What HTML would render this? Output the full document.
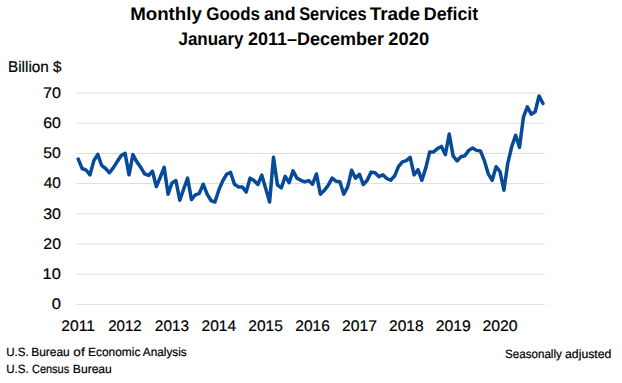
<!DOCTYPE html>
<html><head><meta charset="utf-8"><style>
html,body{margin:0;padding:0;background:#fff;width:622px;height:383px;overflow:hidden}
svg{display:block}
text{font-family:"Liberation Sans",sans-serif;fill:#000}
</style></head><body>
<svg width="622" height="383" viewBox="0 0 622 383">
<line x1="76.3" y1="304.4" x2="544.9" y2="304.4" stroke="#dcdcdc" stroke-width="1.0"/>
<line x1="76.3" y1="274.2" x2="544.9" y2="274.2" stroke="#dcdcdc" stroke-width="1.0"/>
<line x1="76.3" y1="244.0" x2="544.9" y2="244.0" stroke="#dcdcdc" stroke-width="1.0"/>
<line x1="76.3" y1="213.8" x2="544.9" y2="213.8" stroke="#dcdcdc" stroke-width="1.0"/>
<line x1="76.3" y1="183.6" x2="544.9" y2="183.6" stroke="#dcdcdc" stroke-width="1.0"/>
<line x1="76.3" y1="153.4" x2="544.9" y2="153.4" stroke="#dcdcdc" stroke-width="1.0"/>
<line x1="76.3" y1="123.2" x2="544.9" y2="123.2" stroke="#dcdcdc" stroke-width="1.0"/>
<line x1="76.3" y1="93.0" x2="544.9" y2="93.0" stroke="#dcdcdc" stroke-width="1.0"/>

<polyline points="78.25,159.14 82.16,168.50 86.06,170.01 89.97,174.84 93.87,160.65 97.78,154.31 101.68,165.48 105.59,168.50 109.49,172.73 113.40,167.59 117.30,161.55 121.21,155.51 125.11,153.40 129.02,174.84 132.92,154.61 136.83,161.86 140.73,167.29 144.64,173.94 148.54,175.45 152.45,171.22 156.35,186.62 160.26,177.26 164.16,167.29 168.07,194.17 171.97,183.00 175.88,180.58 179.78,200.21 183.69,189.04 187.59,178.16 191.50,199.61 195.40,194.77 199.31,193.26 203.21,184.20 207.12,194.17 211.02,200.51 214.93,202.02 218.83,189.94 222.74,180.88 226.64,174.24 230.55,172.43 234.45,184.20 238.36,186.92 242.26,186.92 246.17,192.06 250.07,178.16 253.98,180.58 257.88,184.51 261.79,175.14 265.69,188.43 269.60,202.02 273.50,157.33 277.41,184.81 281.31,187.83 285.22,176.35 289.12,182.69 293.03,170.92 296.93,178.16 300.84,180.28 304.74,181.79 308.65,180.58 312.55,184.20 316.46,173.94 320.36,194.17 324.27,190.55 328.17,185.41 332.08,178.16 335.98,181.18 339.89,181.79 343.79,194.17 347.70,186.92 351.60,170.31 355.51,178.16 359.41,174.24 363.32,184.51 367.22,180.28 371.13,172.12 375.03,172.73 378.94,176.65 382.84,174.84 386.75,178.47 390.65,180.28 394.56,176.05 398.46,166.69 402.37,161.86 406.27,160.65 410.18,157.33 414.08,174.84 417.99,169.71 421.89,180.28 425.80,167.90 429.70,151.89 433.61,151.89 437.51,148.57 441.42,146.45 445.32,154.61 449.23,134.07 453.13,155.82 457.04,160.95 460.94,156.72 464.85,155.82 468.75,150.38 472.66,147.96 476.56,150.38 480.47,150.98 484.37,160.65 488.28,173.94 492.18,180.28 496.09,166.69 499.99,171.52 503.90,190.24 507.80,163.06 511.71,146.76 515.61,135.28 519.52,147.36 523.42,117.16 527.33,106.89 531.23,114.14 535.14,111.72 539.04,96.02 542.95,103.57" fill="none" stroke="#064a98" stroke-width="3.5" stroke-linejoin="round" stroke-linecap="round"/>
<text x="130.16" y="19.70" font-size="18.3" font-weight="bold" textLength="71.75" lengthAdjust="spacingAndGlyphs" text-rendering="geometricPrecision">Monthly</text>
<text x="206.31" y="19.70" font-size="18.3" font-weight="bold" textLength="53.60" lengthAdjust="spacingAndGlyphs" text-rendering="geometricPrecision">Goods</text>
<text x="263.96" y="19.70" font-size="18.3" font-weight="bold" textLength="31.56" lengthAdjust="spacingAndGlyphs" text-rendering="geometricPrecision">and</text>
<text x="299.21" y="19.70" font-size="18.3" font-weight="bold" textLength="67.34" lengthAdjust="spacingAndGlyphs" text-rendering="geometricPrecision">Services</text>
<text x="369.66" y="19.70" font-size="18.3" font-weight="bold" textLength="50.50" lengthAdjust="spacingAndGlyphs" text-rendering="geometricPrecision">Trade</text>
<text x="423.80" y="19.70" font-size="18.3" font-weight="bold" textLength="54.39" lengthAdjust="spacingAndGlyphs" text-rendering="geometricPrecision">Deficit</text>
<text x="178.45" y="45.00" font-size="18.3" font-weight="bold" textLength="65.10" lengthAdjust="spacingAndGlyphs" text-rendering="geometricPrecision">January</text>
<text x="248.02" y="45.00" font-size="18.3" font-weight="bold" textLength="135.87" lengthAdjust="spacingAndGlyphs" text-rendering="geometricPrecision">2011–December</text>
<text x="388.36" y="45.00" font-size="18.3" font-weight="bold" textLength="40.76" lengthAdjust="spacingAndGlyphs" text-rendering="geometricPrecision">2020</text>
<text x="8.04" y="72.00" font-size="15.55" textLength="53.51" lengthAdjust="spacingAndGlyphs" text-rendering="geometricPrecision" stroke="#000" stroke-width="0.2">Billion $</text>
<text x="51.78" y="309.20" font-size="15.35" textLength="9.20" lengthAdjust="spacingAndGlyphs" text-rendering="geometricPrecision" stroke="#000" stroke-width="0.2">0</text>
<text x="42.64" y="279.00" font-size="15.35" textLength="18.29" lengthAdjust="spacingAndGlyphs" text-rendering="geometricPrecision" stroke="#000" stroke-width="0.2">10</text>
<text x="43.36" y="248.80" font-size="15.35" textLength="17.64" lengthAdjust="spacingAndGlyphs" text-rendering="geometricPrecision" stroke="#000" stroke-width="0.2">20</text>
<text x="43.15" y="218.60" font-size="15.35" textLength="17.79" lengthAdjust="spacingAndGlyphs" text-rendering="geometricPrecision" stroke="#000" stroke-width="0.2">30</text>
<text x="43.77" y="188.40" font-size="15.35" textLength="17.15" lengthAdjust="spacingAndGlyphs" text-rendering="geometricPrecision" stroke="#000" stroke-width="0.2">40</text>
<text x="43.28" y="158.20" font-size="15.35" textLength="17.58" lengthAdjust="spacingAndGlyphs" text-rendering="geometricPrecision" stroke="#000" stroke-width="0.2">50</text>
<text x="43.23" y="128.00" font-size="15.35" textLength="17.69" lengthAdjust="spacingAndGlyphs" text-rendering="geometricPrecision" stroke="#000" stroke-width="0.2">60</text>
<text x="42.99" y="97.80" font-size="15.35" textLength="17.96" lengthAdjust="spacingAndGlyphs" text-rendering="geometricPrecision" stroke="#000" stroke-width="0.2">70</text>
<text x="61.32" y="331.10" font-size="15.35" textLength="33.68" lengthAdjust="spacingAndGlyphs" text-rendering="geometricPrecision" stroke="#000" stroke-width="0.2">2011</text>
<text x="108.14" y="331.10" font-size="15.35" textLength="33.64" lengthAdjust="spacingAndGlyphs" text-rendering="geometricPrecision" stroke="#000" stroke-width="0.2">2012</text>
<text x="154.84" y="331.10" font-size="15.35" textLength="34.24" lengthAdjust="spacingAndGlyphs" text-rendering="geometricPrecision" stroke="#000" stroke-width="0.2">2013</text>
<text x="201.64" y="331.10" font-size="15.35" textLength="34.44" lengthAdjust="spacingAndGlyphs" text-rendering="geometricPrecision" stroke="#000" stroke-width="0.2">2014</text>
<text x="248.33" y="331.10" font-size="15.35" textLength="34.52" lengthAdjust="spacingAndGlyphs" text-rendering="geometricPrecision" stroke="#000" stroke-width="0.2">2015</text>
<text x="295.34" y="331.10" font-size="15.35" textLength="34.50" lengthAdjust="spacingAndGlyphs" text-rendering="geometricPrecision" stroke="#000" stroke-width="0.2">2016</text>
<text x="342.08" y="331.10" font-size="15.35" textLength="34.90" lengthAdjust="spacingAndGlyphs" text-rendering="geometricPrecision" stroke="#000" stroke-width="0.2">2017</text>
<text x="389.01" y="331.10" font-size="15.35" textLength="34.59" lengthAdjust="spacingAndGlyphs" text-rendering="geometricPrecision" stroke="#000" stroke-width="0.2">2018</text>
<text x="435.66" y="331.10" font-size="15.35" textLength="35.11" lengthAdjust="spacingAndGlyphs" text-rendering="geometricPrecision" stroke="#000" stroke-width="0.2">2019</text>
<text x="482.46" y="331.10" font-size="15.35" textLength="35.23" lengthAdjust="spacingAndGlyphs" text-rendering="geometricPrecision" stroke="#000" stroke-width="0.2">2020</text>
<text x="6.22" y="355.50" font-size="12" textLength="22.56" lengthAdjust="spacingAndGlyphs" text-rendering="geometricPrecision" stroke="#000" stroke-width="0.2">U.S.</text>
<text x="31.26" y="355.50" font-size="12" textLength="38.51" lengthAdjust="spacingAndGlyphs" text-rendering="geometricPrecision" stroke="#000" stroke-width="0.2">Bureau</text>
<text x="73.34" y="355.50" font-size="12" textLength="11.34" lengthAdjust="spacingAndGlyphs" text-rendering="geometricPrecision" stroke="#000" stroke-width="0.2">of</text>
<text x="87.97" y="355.50" font-size="12" textLength="52.39" lengthAdjust="spacingAndGlyphs" text-rendering="geometricPrecision" stroke="#000" stroke-width="0.2">Economic</text>
<text x="142.87" y="355.50" font-size="12" textLength="43.89" lengthAdjust="spacingAndGlyphs" text-rendering="geometricPrecision" stroke="#000" stroke-width="0.2">Analysis</text>
<text x="6.22" y="372.60" font-size="12" textLength="22.56" lengthAdjust="spacingAndGlyphs" text-rendering="geometricPrecision" stroke="#000" stroke-width="0.2">U.S.</text>
<text x="31.95" y="372.60" font-size="12" textLength="37.28" lengthAdjust="spacingAndGlyphs" text-rendering="geometricPrecision" stroke="#000" stroke-width="0.2">Census</text>
<text x="72.89" y="372.60" font-size="12" textLength="38.92" lengthAdjust="spacingAndGlyphs" text-rendering="geometricPrecision" stroke="#000" stroke-width="0.2">Bureau</text>
<text x="505.00" y="357.60" font-size="12" textLength="56.83" lengthAdjust="spacingAndGlyphs" text-rendering="geometricPrecision" stroke="#000" stroke-width="0.2">Seasonally</text>
<text x="565.04" y="357.60" font-size="12" textLength="46.38" lengthAdjust="spacingAndGlyphs" text-rendering="geometricPrecision" stroke="#000" stroke-width="0.2">adjusted</text>
</svg>
</body></html>
